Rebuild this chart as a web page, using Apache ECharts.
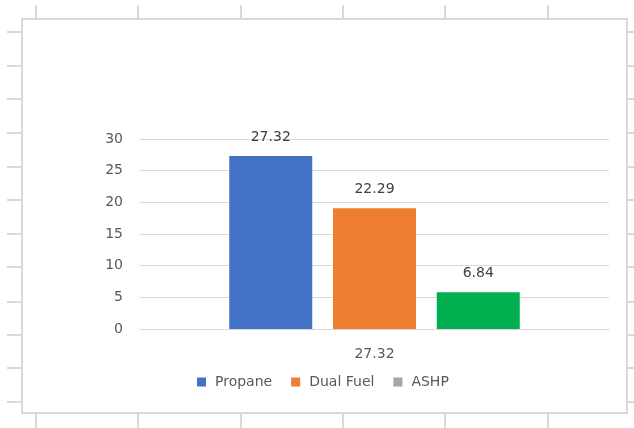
<!DOCTYPE html>
<html>
<head>
<meta charset="utf-8">
<script src="https://cdn.jsdelivr.net/npm/echarts@6/dist/echarts.min.js"></script>
<style>
html,body{margin:0;padding:0;background:#fff;}
#chart{width:634px;height:428px;}
</style>
</head>
<body>
<div id="chart"></div>
<script>
var categories = ['27.32'];
var seriesNames = ['Propane', 'Dual Fuel', 'ASHP'];
var barValues = [27.32, 19.05, 5.8];
var labelTexts = ['27.32', '22.29', '6.84'];
var barColors = ['#4472c4', '#ed7d31', '#00b050'];
var legendColors = ['#4472c4', '#ed7d31', '#a5a5a5'];
var yTicks = [0, 5, 10, 15, 20, 25, 30];

var FONT = 'DejaVu Sans';
var TXT = '#595959';
var chart = echarts.init(document.getElementById('chart'), null, {renderer: 'canvas'});

var series = seriesNames.map(function (name, i) {
  return {
    name: name,
    type: 'bar',
    data: [barValues[i]],
    barWidth: 83,
    barGap: '25%',
    itemStyle: {color: barColors[i]},
    label: {
      show: true,
      position: 'top',
      distance: 12,
      formatter: function () { return labelTexts[i]; },
      color: '#404040',
      fontFamily: FONT,
      fontSize: 14
    },
    emphasis: {disabled: true}
  };
});

// decorative spreadsheet frame (chart area border + cell grid ticks)
var graphics = [];
var lineStyle = {stroke: '#d9d9d9', lineWidth: 2};
graphics.push({type: 'rect', shape: {x: 22, y: 19, width: 605, height: 394}, style: {fill: null, stroke: '#d9d9d9', lineWidth: 2}, silent: true});
[36, 138, 241, 343, 445, 548].forEach(function (x) {
  graphics.push({type: 'line', shape: {x1: x, y1: 5, x2: x, y2: 19}, style: lineStyle, silent: true});
  graphics.push({type: 'line', shape: {x1: x, y1: 413, x2: x, y2: 428}, style: lineStyle, silent: true});
});
[32, 66, 99, 133, 167, 200, 234, 267, 302, 335, 368, 402].forEach(function (y) {
  graphics.push({type: 'line', shape: {x1: 7, y1: y, x2: 22, y2: y}, style: lineStyle, silent: true});
  graphics.push({type: 'line', shape: {x1: 627, y1: y, x2: 634, y2: y}, style: lineStyle, silent: true});
});

chart.setOption({
  animation: false,
  backgroundColor: '#ffffff',
  grid: {left: 140, right: 25, top: 139, bottom: 99, containLabel: false},
  xAxis: {
    type: 'category',
    data: categories,
    axisLine: {show: true, lineStyle: {color: '#d9d9d9', width: 1}},
    axisTick: {show: false},
    axisLabel: {color: TXT, fontFamily: FONT, fontSize: 14, margin: 18}
  },
  yAxis: {
    type: 'value',
    min: yTicks[0],
    max: yTicks[yTicks.length - 1],
    interval: yTicks[1] - yTicks[0],
    axisLine: {show: false},
    axisTick: {show: false},
    axisLabel: {color: TXT, fontFamily: FONT, fontSize: 14, margin: 17},
    splitLine: {lineStyle: {color: '#d9d9d9', width: 1}}
  },
  legend: {
    left: 197,
    top: 375,
    padding: 0,
    icon: 'rect',
    itemWidth: 9,
    itemHeight: 9,
    itemGap: 19,
    textStyle: {color: TXT, fontFamily: FONT, fontSize: 14, padding: [0, 0, 0, 4]},
    data: seriesNames.map(function (n, i) {
      return {name: n, itemStyle: {color: legendColors[i]}};
    })
  },
  graphic: graphics,
  series: series
});
</script>
</body>
</html>
